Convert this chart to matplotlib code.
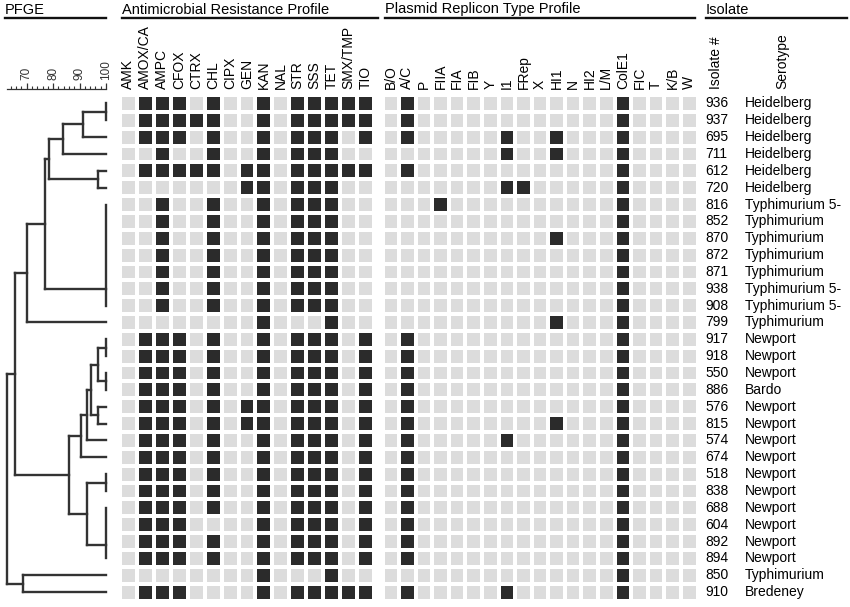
import numpy as np
import matplotlib
matplotlib.use("Agg")
import matplotlib.pyplot as plt
from matplotlib.colors import ListedColormap
from matplotlib.lines import Line2D
from matplotlib.ticker import MultipleLocator

plt.rcParams['font.family'] = ['Liberation Sans', 'DejaVu Sans']

isolates = ['936', '937', '695', '711', '612', '720', '816', '852', '870', '872',
            '871', '938', '908', '799', '917', '918', '550', '886', '576', '815',
            '574', '674', '518', '838', '688', '604', '892', '894', '850', '910']
serotypes = ['Heidelberg'] * 6 + ['Typhimurium 5-', 'Typhimurium', 'Typhimurium',
             'Typhimurium', 'Typhimurium', 'Typhimurium 5-', 'Typhimurium 5-',
             'Typhimurium', 'Newport', 'Newport', 'Newport', 'Bardo'] + \
            ['Newport'] * 10 + ['Typhimurium', 'Bredeney']

amr_drugs = ['AMK', 'AMOX/CA', 'AMPC', 'CFOX', 'CTRX', 'CHL', 'CIPX', 'GEN', 'KAN',
             'NAL', 'STR', 'SSS', 'TET', 'SMX/TMP', 'TIO']
# 1 = resistant
amr_rows = ['011101001011111', '011111001011111', '011101001011101', '001001001011100',
            '011111011011111', '000000011011100', '001001001011100', '001001001011100',
            '001001001011100', '001001001011100', '001001001011100', '001001001011100',
            '001001001011100', '000000001000100', '011101001011101', '011101001011101',
            '011101001011101', '011101001011101', '011101011011101', '011101011011101',
            '011101001011101', '011101001011101', '011101001011101', '011101001011101',
            '011101001011101', '011100001011101', '011101001011101', '011101001011101',
            '000000001000100', '011100001011111']

replicons = ['B/O', 'A/C', 'P', 'FIIA', 'FIA', 'FIB', 'Y', 'I1', 'FRep', 'X', 'HI1',
             'N', 'HI2', 'L/M', 'ColE1', 'FIC', 'T', 'K/B', 'W']
rep_rows = ['0100000000000010000', '0100000000000010000', '0100000100100010000',
            '0000000100100010000', '0100000000000010000', '0000000110000010000',
            '0001000000000010000', '0000000000000010000', '0000000000100010000',
            '0000000000000010000', '0000000000000010000', '0000000000000010000',
            '0000000000000010000', '0000000000100010000', '0100000000000010000',
            '0100000000000010000', '0100000000000010000', '0100000000000010000',
            '0100000000000010000', '0100000000100010000', '0100000100000010000',
            '0100000000000010000', '0100000000000010000', '0100000000000010000',
            '0100000000000010000', '0100000000000010000', '0100000000000010000',
            '0100000000000010000', '0000000000000010000', '0100000100000010000']

# PFGE tree: (similarity %, child, child); int = row; ('g', first, last, attach) = identical rows
tree = (62.5,
        (65.5,
         (70.2,
          (77.0,
           (78.6, (83.8, (91.3, ('g', 0, 1, 0.5), 2), 3), (97.0, 4, 5)),
           ('g', 6, 12, 11)),
          13),
         (86.0,
          (90.6,
           (92.8, (94.3, (97.0, ('g', 14, 15, 14.5), ('g', 16, 17, 16.5)), (97.0, 18, 19)), 20),
           21),
          (92.8, ('g', 22, 23, 22.5), ('g', 24, 27, 26.2)))),
        (68.6, 28, 29))

W, H = 850, 607
fig = plt.figure(figsize=(8.5, 6.07), dpi=100)


def box(x0, y0, x1, y1):
    return [x0 / W, 1 - y1 / H, (x1 - x0) / W, (y1 - y0) / H]


GRID_TOP, GRID_BOT = 95, 600.5
cmap = ListedColormap(['#dcdcdc', '#2b2b2b'])


def grid(pos, cols, rows):
    ax = fig.add_axes(pos)
    data = np.array([[int(c) for c in r] for r in rows])
    ax.pcolormesh(np.arange(len(cols) + 1), np.arange(len(rows) + 1), data,
                  cmap=cmap, edgecolors='white', linewidth=1.5)
    ax.set_xlim(0, len(cols))
    ax.set_ylim(len(rows), 0)
    ax.xaxis.tick_top()
    ax.set_xticks(np.arange(len(cols)) + 0.5)
    ax.set_xticklabels(cols, rotation=90, fontsize=10)
    ax.tick_params(length=0, pad=4, left=False, labelleft=False)
    for s in ax.spines.values():
        s.set_visible(False)
    return ax


grid(box(120, GRID_TOP, 374, GRID_BOT), amr_drugs, amr_rows)
grid(box(382.5, GRID_TOP, 697.5, GRID_BOT), replicons, rep_rows)

# dendrogram
axd = fig.add_axes(box(6.8, GRID_TOP, 106, GRID_BOT))
axd.set_xlim(62.5, 100)
axd.set_ylim(30, 0)
axd.axis('off')
lk = dict(color='#333333', lw=1.7, solid_capstyle='projecting', clip_on=False)


def draw(node, px):
    if isinstance(node, int):
        y = node + 0.5
        axd.plot([px, 100], [y, y], **lk)
        return y
    if node[0] == 'g':
        _, a, b, att = node
        axd.plot([100, 100], [a + 0.5, b + 0.5], **lk)
        axd.plot([px, 100], [att + 0.5, att + 0.5], **lk)
        return att + 0.5
    sim, left, right = node
    y1 = draw(left, sim)
    y2 = draw(right, sim)
    axd.plot([sim, sim], [y1, y2], **lk)
    y = (y1 + y2) / 2
    if px is not None:
        axd.plot([px, sim], [y, y], **lk)
    return y


draw(tree, None)

# similarity scale
axs = fig.add_axes(box(6.8, 89.3, 106, 89.4))
axs.set_xlim(62.5, 100)
axs.set_yticks([])
for k in ['left', 'right', 'bottom']:
    axs.spines[k].set_visible(False)
axs.spines['top'].set_linewidth(0.9)
axs.spines['top'].set_color('#333333')
axs.xaxis.tick_top()
axs.xaxis.set_major_locator(MultipleLocator(10))
axs.xaxis.set_minor_locator(MultipleLocator(2))
axs.tick_params(which='major', direction='out', length=4, width=0.9, pad=2.5,
                labelsize=8.5, labelrotation=90, colors='#333333')
axs.tick_params(which='minor', direction='out', length=2.2, width=0.8, colors='#333333')
axs.set_xticks([70, 80, 90, 100])

# isolate labels
axl = fig.add_axes(box(700, GRID_TOP, 850, GRID_BOT))
axl.set_xlim(700, 850)
axl.set_ylim(30, 0)
for i, (num, sero) in enumerate(zip(isolates, serotypes)):
    axl.text(705, i + 0.5, num, fontsize=10, va='center', ha='left')
    axl.text(745, i + 0.5, sero, fontsize=10, va='center', ha='left')
axl.xaxis.tick_top()
axl.set_xticks([716, 782])
axl.set_xticklabels(['Isolate #', 'Serotype'], rotation=90, fontsize=10)
axl.tick_params(length=0, pad=4, left=False, labelleft=False)
for s in axl.spines.values():
    s.set_visible(False)

# section headers
headers = [('PFGE', 5, 106), ('Antimicrobial Resistance Profile', 122, 378),
           ('Plasmid Replicon Type Profile', 385, 695), ('Isolate', 706, 847)]
for label, x0, x1 in headers:
    fig.text(x0 / W, 1 - 13.5 / H, label, fontsize=10.5, ha='left', va='baseline')
    fig.add_artist(Line2D([x0 / W, x1 / W], [1 - 17.8 / H] * 2, color='#111111', lw=1.7))

fig.savefig('out.png', dpi=100, facecolor='white')
